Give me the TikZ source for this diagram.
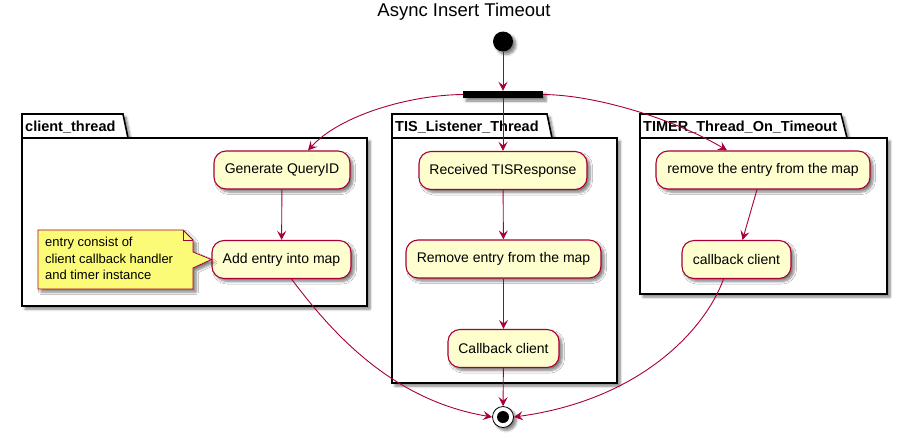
\documentclass[tikz,border=0pt]{standalone}
\usepackage{fontspec}
\setmainfont{Liberation Sans}
\usetikzlibrary{arrows.meta,shadows.blur,calc}
\definecolor{umlred}{HTML}{A80036}
\definecolor{actfill}{HTML}{FEFECE}
\definecolor{notefill}{HTML}{FBFB77}
\begin{document}
\begin{tikzpicture}[x=1pt,y=-1pt,
 shad/.style={blur shadow={shadow xshift=3pt,shadow yshift=-3pt,shadow blur steps=6,shadow opacity=50,shadow blur radius=2.5pt}},
 act/.style={rectangle, rounded corners=12pt, draw=umlred, line width=1.1pt, fill=actfill, shad, inner sep=0pt, font=\fontsize{14}{16}\selectfont, minimum height=38pt},
 flow/.style={draw=umlred, line width=0.9pt, -{Stealth[length=9pt,width=9pt,inset=3.5pt]}},
 pkg/.style={draw=black, line width=1.6pt, fill=white, shad},
 pkglabel/.style={anchor=west, font=\bfseries\fontsize{14.5}{16}\selectfont, inner sep=0pt}]
\useasboundingbox (0,0) rectangle (920,437);

% title
\node[font=\fontsize{18.5}{20}\selectfont] (title) at (464,12) {Async Insert Timeout};

% packages
\draw[pkg] (22,138) -- (22,114) -- (123,114) -- (128,138) -- (367,138) -- (367,306) -- (22,306) -- cycle;
\draw[line width=1.6pt] (22,138) -- (128,138);
\node[pkglabel] (clientlbl) at (25,127) {client\_thread};

\draw[pkg] (392,138) -- (392,114) -- (547,114) -- (552,138) -- (617,138) -- (617,383) -- (392,383) -- cycle;
\draw[line width=1.6pt] (392,138) -- (552,138);
\node[pkglabel] (tislbl) at (395,127) {TIS\_Listener\_Thread};

\draw[pkg] (640,138) -- (640,114) -- (841,114) -- (847,138) -- (887,138) -- (887,294) -- (640,294) -- cycle;
\draw[line width=1.6pt] (640,138) -- (847,138);
\node[pkglabel] (timerlbl) at (643,127) {TIMER\_Thread\_On\_Timeout};

% start, fork, end
\node[circle, fill=black, minimum size=20pt, inner sep=0pt, shad] (start) at (503,41.5) {};
\node[rectangle, fill=black, minimum width=80pt, minimum height=7pt, inner sep=0pt, shad] (fork) at (503,94.5) {};
\node[circle, draw=black, fill=white, line width=0.8pt, minimum size=21pt, inner sep=0pt, shad] (end) at (503,417) {};
\node[circle, fill=black, minimum size=12pt, inner sep=0pt] (endin) at (end) {};

% activities
\node[act, minimum width=136pt] (genq) at (282,170) {Generate QueryID};
\node[act, minimum width=139pt] (add) at (281.5,259.5) {Add entry into map};
\node[act, minimum width=168pt] (recv) at (503,170.5) {Received TISResponse};
\node[act, minimum width=195pt] (remtis) at (503.5,259) {Remove entry from the map};
\node[act, minimum width=111pt] (cbtis) at (503.5,348.5) {Callback client};
\node[act, minimum width=214pt] (rem) at (763,170) {remove the entry from the map};
\node[act, minimum width=109pt] (cb) at (736.5,259.5) {callback client};

% note
\draw[draw=umlred, fill=notefill, line width=0.8pt, shad] (38,230) -- (183,230) -- (193,240) -- (193,252) -- (add.west) -- (193,268) -- (193,289) -- (38,289) -- cycle;
\draw[umlred, line width=0.8pt] (183,230) -- (183,240) -- (193,240);
\node[anchor=north west, align=left, font=\fontsize{13}{16.5}\selectfont, inner sep=0pt] (notetext) at (45,237) {entry consist of\\client callback handler\\and timer instance};

% connectors
\draw[flow] (start) -- (fork);
\draw[flow] (fork.south) -- (recv.north);
\draw[flow] (fork.west) .. controls (410,95) and (340,115) .. ($(genq.north)+(26,0)$);
\draw[flow] (fork.east) .. controls (600,95) and (680,122) .. ($(rem.north)+(-36,0)$);
\draw[flow] (genq) -- (add);
\draw[flow] (recv) -- (remtis);
\draw[flow] (remtis) -- (cbtis);
\draw[flow] (cbtis) -- (end);
\draw[flow] ($(rem.south)+(-6,0)$) -- ($(cb.north)+(6,0)$);
\draw[flow] ($(add.south)+(10,0)$) .. controls (330,330) and (390,400) .. (end.west);
\draw[flow] ($(cb.south)+(-13,0)$) .. controls (705,330) and (640,400) .. (end.east);
\end{tikzpicture}
\end{document}
